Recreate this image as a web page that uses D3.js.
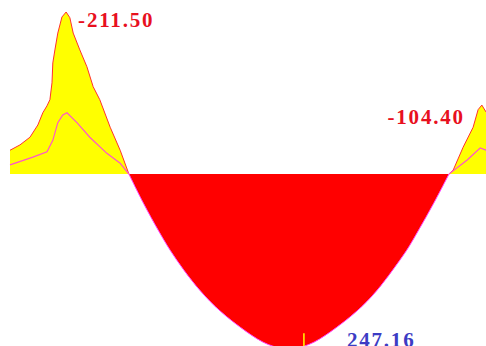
<!DOCTYPE html>
<html>
<head>
<meta charset="utf-8">
<script src="https://cdn.jsdelivr.net/npm/d3@7"></script>
<style>
  body { margin: 0; background: #fff; overflow: hidden; }
</style>
</head>
<body>
<div class="momentChart"></div>
<script>
// Bending moment diagram, stations in m, moments in kN.m
const hogLeftPos = [-1.35, -1.11, -0.87, -0.68, -0.56, -0.46, -0.39, -0.34, -0.32, -0.27, -0.20, -0.10, 0.00, 0.09, 0.17, 0.33, 0.50, 0.65, 0.81, 1.06, 1.30, 1.51];
const hogLeftMoment = [-31, -38, -48, -64, -80, -89, -97, -119, -145, -162, -184, -205, -211.5, -204, -184, -162, -140, -114, -97, -61, -31, 0];

const innerLeftPos = [-1.35, -0.80, -0.46, -0.32, -0.20, -0.08, 0.02, 0.26, 0.57, 0.98, 1.30, 1.51];
const innerLeftMoment = [-12, -22, -29, -44, -67, -77, -80, -67, -48, -27, -14, 0];

const sagPos = [1.51, 1.86, 2.23, 2.50, 2.82, 3.22, 3.70, 4.35, 4.87, 5.35, 5.83, 6.35, 7.00, 7.48, 7.86, 8.20, 8.46, 8.84, 9.21];
const sagMoment = [0, 39, 75, 100, 125, 153, 180, 207, 225, 229, 225, 207, 180, 153, 125, 100, 75, 39, 0];

const hogRightPos = [9.21, 9.31, 9.55, 9.79, 9.91, 10.00, 10.10];
const hogRightMoment = [0, -5, -35, -61, -84, -90, -81];

const innerRightPos = [9.21, 9.64, 9.96, 10.10];
const innerRightMoment = [0, -18, -34, -31];

const peakLabels = ["-211.50", "-104.40", "247.16"];
const maxSagPos = 5.72;

const width = 486
const height = 346

const svg = d3.select(".momentChart")
  .append("svg")
  .attr("width", width)
  .attr("height", height)

const x = d3.scaleLinear().domain([-1.35, 10.1]).range([10, 486])
const y = d3.scaleLinear().domain([-211.5, 0]).range([12, 174])

const toPoints = (pos, m) => pos.map((p, i) => ({ pos: p, m: m[i] }))

const hogLeft = toPoints(hogLeftPos, hogLeftMoment)
const innerLeft = toPoints(innerLeftPos, innerLeftMoment)
const sag = toPoints(sagPos, sagMoment)
const hogRight = toPoints(hogRightPos, hogRightMoment)
const innerRight = toPoints(innerRightPos, innerRightMoment)

// hogging parts are drawn straight between readings, sagging part smooth
const area = curve => d3.area()
  .x(d => x(d.pos))
  .y0(y(0))
  .y1(d => y(d.m))
  .curve(curve)

const line = curve => d3.line()
  .x(d => x(d.pos))
  .y(d => y(d.m))
  .curve(curve)

// sagging part (red)
svg.append("path")
  .datum(sag)
  .attr("d", area(d3.curveBasis))
  .attr("fill", "#ff0000")

svg.append("path")
  .datum(sag)
  .attr("d", line(d3.curveBasis))
  .attr("fill", "none")
  .attr("stroke", "#ff44ff")
  .attr("stroke-width", 1)

// hogging parts (yellow)
;[hogLeft, hogRight].forEach(data => {
  svg.append("path")
    .datum(data)
    .attr("d", area(d3.curveLinear))
    .attr("fill", "#ffff00")
  svg.append("path")
    .datum(data)
    .attr("d", line(d3.curveLinear))
    .attr("fill", "none")
    .attr("stroke", "#ff3030")
    .attr("stroke-width", 1)
})

;[innerLeft, innerRight].forEach(data => {
  svg.append("path")
    .datum(data)
    .attr("d", line(d3.curveLinear))
    .attr("fill", "none")
    .attr("stroke", "#ff55cc")
    .attr("stroke-width", 1.2)
})

// marker at max sagging moment
svg.append("line")
  .attr("x1", x(maxSagPos))
  .attr("x2", x(maxSagPos))
  .attr("y1", y(208))
  .attr("y2", height)
  .attr("stroke", "#ffff00")
  .attr("stroke-width", 1.5)

// value labels
const labelStyle = sel => sel
  .style("font-family", "'Liberation Serif', 'Times New Roman', serif")
  .style("font-size", "21px")
  .style("font-weight", "bold")
  .style("letter-spacing", "1.8px")

svg.append("text")
  .attr("x", x(0) + 12)
  .attr("y", y(-211.5) + 15)
  .attr("fill", "#e8101e")
  .text(peakLabels[0])
  .call(labelStyle)

svg.append("text")
  .attr("x", x(10.0) - 17)
  .attr("y", y(-90) + 19)
  .attr("text-anchor", "end")
  .attr("fill", "#e8101e")
  .text(peakLabels[1])
  .call(labelStyle)

svg.append("text")
  .attr("x", x(maxSagPos) + 43)
  .attr("y", 347)
  .attr("fill", "#3c3cc4")
  .text(peakLabels[2])
  .call(labelStyle)
</script>
</body>
</html>
